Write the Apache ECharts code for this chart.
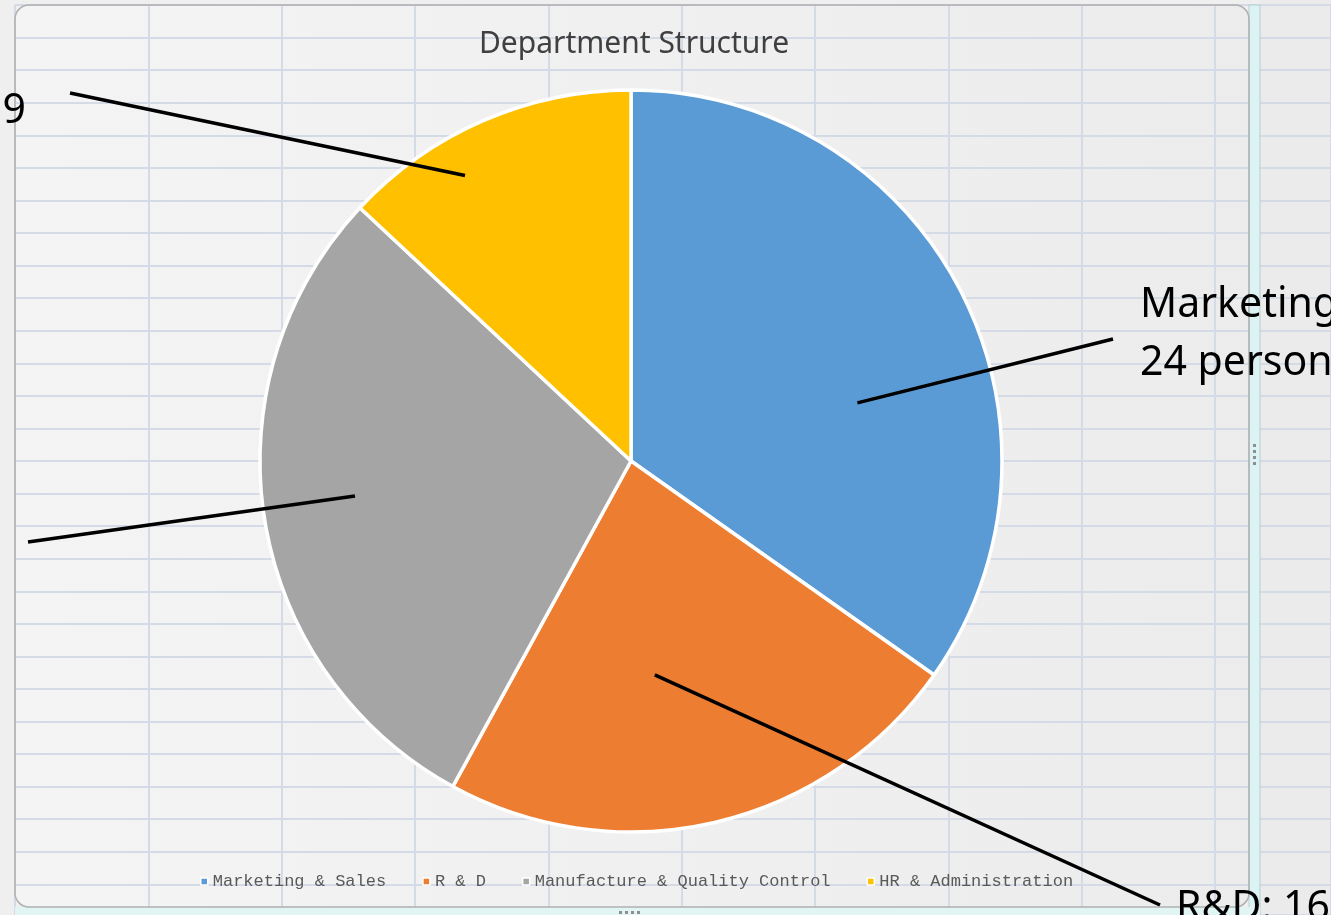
<!DOCTYPE html>
<html>
<head>
<meta charset="utf-8">
<title>Department Structure</title>
<script src="https://cdn.jsdelivr.net/npm/echarts@6/dist/echarts.min.js"></script>
<style>
  html, body { margin: 0; padding: 0; background: #efefef; }
  #main { width: 1331px; height: 915px; }
</style>
</head>
<body>
<div id="main"></div>
<script>
// chart data
var departments = ['Marketing & Sales', 'R & D', 'Manufacture & Quality Control', 'HR & Administration'];
var labelNames = ['Marketing & Sales', 'R&D', 'Manufacture & Quality Control', 'HR & Administration'];
var persons = [24, 16, 20, 9];
var colors = ['#5b9bd5', '#ed7d31', '#a5a5a5', '#ffc000'];

// pie geometry (px)
var cx = 631, cy = 461, radius = 371;

// where each leader line starts (offset from slice mid angle, radius fraction)
// and where the label / line end sit, relative to the pie centre
var leaders = [
	{ da: 13, rf: 0.63, ex: 482, ey: -122, lx: 509, ly: -156, side: 'left' },
	{ da: 6.7, rf: 0.58, ex: 529, ey: 444, lx: 545, ly: 447, side: 'left' },
	{ da: 1.9, rf: 0.75, ex: -603, ey: 81, lx: -628, ly: 84, side: 'right' },
	{ da: -6.7, rf: 0.89, ex: -561, ey: -368, lx: -605, ly: -350, side: 'right' }
];
var labelFormats = [
	'{name}:\n{value} persons',
	'{name}: {value} persons',
	'{name}:\n{value} persons',
	'{name}: {value}\npersons'
];
var lineH = 58;

var total = persons.reduce(function (a, b) { return a + b; }, 0);
var midAngles = [];
var acc = 0;
for (var i = 0; i < persons.length; i++) {
	var a = persons[i] / total * 360;
	midAngles.push(acc + a / 2);
	acc += a;
}

var chart = echarts.init(document.getElementById('main'));

var pieData = departments.map(function (d, i) {
	return { name: d, value: persons[i], itemStyle: { color: colors[i] } };
});
// same slices, only used to carry the labels and leader lines above the pie
var labelData = departments.map(function (d, i) {
	return { name: d, value: persons[i] };
});

// small dotted resize handles of the chart frame
var handles = [];
for (var k = 0; k < 4; k++) {
	handles.push({ type: 'rect', z: 2, shape: { x: 1253, y: 444 + k * 6, width: 3, height: 3 }, style: { fill: '#8f8f8f' } });
	handles.push({ type: 'rect', z: 2, shape: { x: 619 + k * 6, y: 911, width: 3, height: 3 }, style: { fill: '#8f8f8f' } });
}

var option = {
	animation: false,
	backgroundColor: '#efefef',
	graphic: [
		// chart area
		{
			type: 'rect', z: -10,
			shape: { x: 15, y: 5, width: 1234, height: 902, r: [14, 14, 14, 14] },
			style: {
				fill: new echarts.graphic.LinearGradient(0, 0, 1, 0, [
					{ offset: 0, color: '#f4f4f4' },
					{ offset: 1, color: '#ececec' }
				])
			}
		},
		{
			type: 'rect', z: -10,
			shape: { x: 1260, y: 0, width: 80, height: 915 },
			style: { fill: '#ebebeb' }
		},
		{
			type: 'rect', z: 1,
			shape: { x: 1249, y: 5, width: 11, height: 910 },
			style: { fill: '#dcf3f5', stroke: '#b7cdd0', lineWidth: 1 }
		},
		{
			type: 'rect', z: 1,
			shape: { x: 15, y: 907, width: 1245, height: 10 },
			style: { fill: '#e2f5f5' }
		},
		{
			type: 'rect', z: 1,
			shape: { x: 15, y: 5, width: 1234, height: 902, r: [14, 14, 14, 14] },
			style: { fill: 'none', stroke: '#b0b0b0', lineWidth: 1.5 }
		}
	].concat(handles),
	// spreadsheet cell grid behind the chart
	grid: { left: 15, top: 5, width: 1316, height: 910, z: -5 },
	xAxis: {
		type: 'value', min: 0, max: 9.87, interval: 1,
		axisLine: { show: false }, axisTick: { show: false }, axisLabel: { show: false },
		splitLine: { lineStyle: { color: '#d5dbe6', width: 2 } }
	},
	yAxis: {
		type: 'value', min: 0, max: 27.94, interval: 1, inverse: true,
		axisLine: { show: false }, axisTick: { show: false }, axisLabel: { show: false },
		splitLine: { lineStyle: { color: '#d5dbe6', width: 2 } }
	},
	title: {
		text: 'Department Structure',
		left: 629,
		textAlign: 'center',
		top: 24,
		textStyle: {
			fontFamily: 'Noto Sans',
			fontSize: 30,
			fontWeight: 'normal',
			color: '#404040'
		}
	},
	legend: {
		data: departments,
		left: 195,
		top: 868,
		icon: 'rect',
		itemWidth: 7,
		itemHeight: 7,
		itemGap: 36,
		itemStyle: { borderColor: '#ffffff', borderWidth: 1.5 },
		textStyle: {
			fontFamily: 'Liberation Mono',
			fontSize: 17,
			color: '#595959'
		}
	},
	series: [{
		type: 'pie',
		z: 3,
		center: [cx, cy],
		radius: [0, radius],
		startAngle: 90,
		clockwise: true,
		data: pieData,
		itemStyle: { borderColor: '#ffffff', borderWidth: 3.5 },
		emphasis: { disabled: true },
		label: { show: false },
		labelLine: { show: false }
	}, {
		type: 'pie',
		z: 6,
		silent: true,
		center: [cx, cy],
		radius: [0, radius],
		startAngle: 90,
		clockwise: true,
		avoidLabelOverlap: false,
		data: labelData,
		itemStyle: { color: 'rgba(0,0,0,0)', borderWidth: 0 },
		emphasis: { disabled: true },
		label: {
			show: true,
			position: 'outside',
			fontFamily: 'Noto Sans',
			fontSize: 41,
			lineHeight: lineH,
			color: '#000000',
			formatter: function (p) {
				return labelFormats[p.dataIndex]
					.replace('{name}', labelNames[p.dataIndex])
					.replace('{value}', p.value);
			}
		},
		labelLine: {
			show: true,
			lineStyle: { color: '#000000', width: 3.5 }
		},
		labelLayout: function (params) {
			var i = params.dataIndex;
			var L = leaders[i];
			var ang = (midAngles[i] + L.da) * Math.PI / 180;
			var sx = cx + radius * L.rf * Math.sin(ang);
			var sy = cy - radius * L.rf * Math.cos(ang);
			var lines = labelFormats[i].split('\n').length;
			var yMid = cy + L.ly + (lines - 1) * lineH / 2;
			var x = cx + L.lx;
			if (L.side === 'right') {
				x = x - params.labelRect.width;
			}
			return {
				x: x,
				y: yMid,
				align: 'left',
				verticalAlign: 'middle',
				labelLinePoints: [[sx, sy], [cx + L.ex, cy + L.ey]]
			};
		}
	}]
};

chart.setOption(option);
</script>
</body>
</html>
